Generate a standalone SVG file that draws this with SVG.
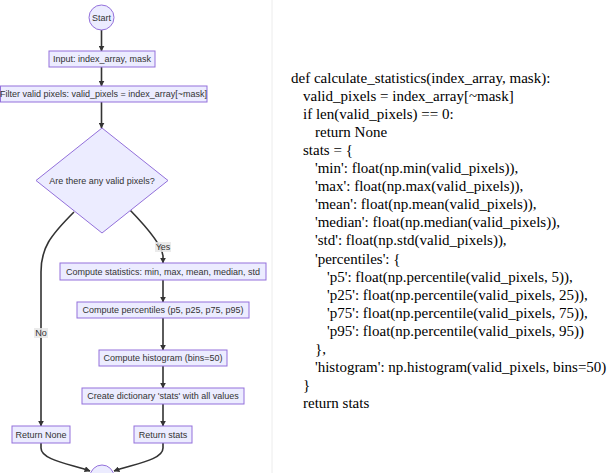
<svg xmlns="http://www.w3.org/2000/svg" width="616" height="473" viewBox="0 0 616 473">
<style>
.n{fill:#ECECFF;stroke:#9370DB;stroke-width:1}
.t{font-family:"Liberation Sans",Arial,sans-serif;font-size:9px;fill:#333;text-anchor:middle;dominant-baseline:central}
.e{fill:none;stroke:#333;stroke-width:1.6}
.lb{fill:#e8e8e8;opacity:0.85}
.c{font-family:"Liberation Serif","Times New Roman",serif;font-size:15px;fill:#000}
</style>
<defs>
<marker id="ah" viewBox="0 0 10 10" refX="9" refY="5" markerWidth="6" markerHeight="6" markerUnits="userSpaceOnUse" orient="auto">
<path d="M0,0 L10,5 L0,10 z" fill="#333"/>
</marker>
</defs>
<rect width="616" height="473" fill="#fff"/>
<line x1="272" y1="0" x2="272" y2="473" stroke="#ececec" stroke-width="1"/>
<g id="edges">
<path class="e" d="M101.5,30 L101.5,51" marker-end="url(#ah)"/>
<path class="e" d="M101.5,67 L101.5,86" marker-end="url(#ah)"/>
<path class="e" d="M101.5,102 L101.5,128" marker-end="url(#ah)"/>
<path class="e" d="M130,210 Q162,243 163,256 L163,263" marker-end="url(#ah)"/>
<path class="e" d="M74,212 C50,236 41,248 41,272 L41,426" marker-end="url(#ah)"/>
<path class="e" d="M163,280 L163,302" marker-end="url(#ah)"/>
<path class="e" d="M163,318 L163,350" marker-end="url(#ah)"/>
<path class="e" d="M163,366 L163,388" marker-end="url(#ah)"/>
<path class="e" d="M163,404 L163,426" marker-end="url(#ah)"/>
<path class="e" d="M41,443 L41,448 C41,460 70,464 90,471" marker-end="url(#ah)"/>
<path class="e" d="M163,443 L163,448 C163,460 134,464 114,471" marker-end="url(#ah)"/>
<rect class="lb" x="155" y="242" width="16" height="10"/>
<text class="t" x="163" y="247">Yes</text>
<rect class="lb" x="34" y="328" width="14" height="10"/>
<text class="t" x="41" y="333">No</text>
</g>
<g id="start"><circle class="n" cx="101.5" cy="17.5" r="12.5"/><text class="t" x="101.5" y="17.5">Start</text></g>
<g id="input"><rect class="n" x="49" y="51" width="106" height="16"/><text class="t" x="102" y="59">Input: index_array, mask</text></g>
<g id="filter"><rect class="n" x="0.5" y="86" width="206.5" height="16"/><text class="t" x="103.5" y="94">Filter valid pixels: valid_pixels = index_array[~mask]</text></g>
<g id="decision"><polygon class="n" points="102,128 168,180.5 102,233 36,180.5"/><text class="t" x="102" y="180.5">Are there any valid pixels?</text></g>
<g id="stats"><rect class="n" x="60" y="263" width="206" height="17"/><text class="t" x="163" y="271.5">Compute statistics: min, max, mean, median, std</text></g>
<g id="percentiles"><rect class="n" x="77" y="302" width="172" height="16"/><text class="t" x="163" y="310">Compute percentiles (p5, p25, p75, p95)</text></g>
<g id="histogram"><rect class="n" x="99" y="350" width="128" height="16"/><text class="t" x="163" y="358">Compute histogram (bins=50)</text></g>
<g id="dict"><rect class="n" x="82" y="388" width="162" height="16"/><text class="t" x="163" y="396">Create dictionary 'stats' with all values</text></g>
<g id="retnone"><rect class="n" x="12" y="426" width="58" height="17"/><text class="t" x="41" y="434.5">Return None</text></g>
<g id="retstats"><rect class="n" x="134" y="426" width="58" height="17"/><text class="t" x="163" y="434.5">Return stats</text></g>
<g id="end"><circle class="n" cx="102" cy="477" r="12"/><text class="t" x="102" y="477">End</text></g>
<g id="code">
<text class="c" x="291" y="83">def calculate_statistics(index_array, mask):</text>
<text class="c" x="303" y="101">valid_pixels = index_array[~mask]</text>
<text class="c" x="303" y="119">if len(valid_pixels) == 0:</text>
<text class="c" x="315" y="137">return None</text>
<text class="c" x="303" y="155">stats = {</text>
<text class="c" x="315" y="173">'min': float(np.min(valid_pixels)),</text>
<text class="c" x="315" y="191">'max': float(np.max(valid_pixels)),</text>
<text class="c" x="315" y="209">'mean': float(np.mean(valid_pixels)),</text>
<text class="c" x="315" y="227">'median': float(np.median(valid_pixels)),</text>
<text class="c" x="315" y="245">'std': float(np.std(valid_pixels)),</text>
<text class="c" x="315" y="264">'percentiles': {</text>
<text class="c" x="327" y="282">'p5': float(np.percentile(valid_pixels, 5)),</text>
<text class="c" x="327" y="300">'p25': float(np.percentile(valid_pixels, 25)),</text>
<text class="c" x="327" y="318">'p75': float(np.percentile(valid_pixels, 75)),</text>
<text class="c" x="327" y="336">'p95': float(np.percentile(valid_pixels, 95))</text>
<text class="c" x="315" y="354">},</text>
<text class="c" x="315" y="372">'histogram': np.histogram(valid_pixels, bins=50)</text>
<text class="c" x="303" y="390">}</text>
<text class="c" x="303" y="408">return stats</text>
</g>
</svg>
